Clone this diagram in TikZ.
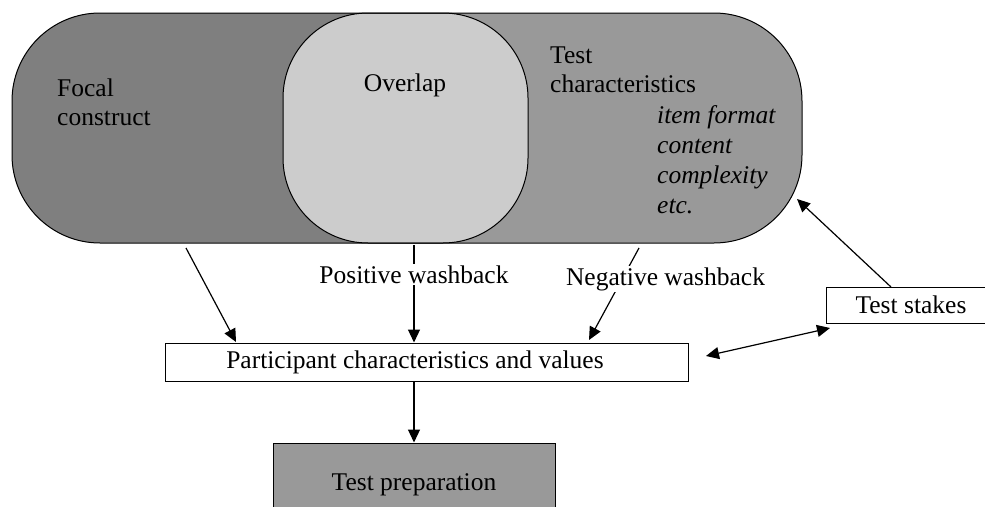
\documentclass[tikz,border=0pt]{standalone}
\usepackage{fontspec}
\setmainfont{Liberation Serif}
\usetikzlibrary{arrows.meta}
\definecolor{darkg}{HTML}{7F7F7F}
\definecolor{midg}{HTML}{999999}
\definecolor{lightg}{HTML}{CCCCCC}
\begin{document}
\begin{tikzpicture}[x=1pt,y=-1pt,
  arr/.style={-{Triangle[length=13pt,width=12pt]}, line width=1.2pt},
  darr/.style={{Triangle[length=13pt,width=12pt]}-{Triangle[length=13pt,width=12pt]}, line width=1.2pt},
  txt/.style={font=\fontsize{25.5}{29}\selectfont, inner sep=0pt},
  itxt/.style={font=\fontsize{25.5}{30}\selectfont\itshape, inner sep=0pt, align=left},
  lbl/.style={txt, fill=white, inner xsep=2pt, inner ysep=1.5pt},
  box/.style={draw, line width=1pt, font=\fontsize{25.5}{29}\selectfont, inner sep=0pt}]
\useasboundingbox (0,0) rectangle (985,506);
\clip (0,0) rectangle (985,506);
% big rounded region
\begin{scope}
  \clip[rounded corners=88pt] (12,13) rectangle (802,243);
  \fill[midg] (12,13) rectangle (802,243);
  \fill[darkg] (12,13) rectangle (405,243);
\end{scope}
\draw[line width=1pt, fill=lightg, rounded corners=85pt] (283,13) rectangle (528,243);
\draw[line width=1pt, rounded corners=88pt] (12,13) rectangle (802,243);
% texts in region (base anchor = baseline of last line)
\node[txt, anchor=base west, align=left] (focal) at (57,125) {Focal\\construct};
\node[txt, anchor=base] (overlap) at (405,91) {Overlap};
\node[txt, anchor=base west, align=left] (testc) at (550,92) {Test\\characteristics};
\node[itxt, anchor=base west] (items) at (657,213) {item format\\content\\complexity\\etc.};
% boxes
\node[box, minimum width=523pt, minimum height=38pt] (part) at (426.5,362) {\hspace*{-23pt}Participant characteristics and values};
\node[box, fill=midg, minimum width=282pt, minimum height=87pt] (prep) at (414,486.5) {\raisebox{9pt}{Test preparation}};
\node[box, minimum width=170pt, minimum height=36pt] (stakes) at (911,305) {Test stakes};
% connector ends
\coordinate (fs) at (186,248);
\coordinate (fe) at (236,342);
\coordinate (ps) at (414,245);
\coordinate (ns) at (639,248);
\coordinate (ne) at (589,340);
\coordinate (sk) at (891,287);
\coordinate (tc) at (797,199);
\coordinate (da1) at (706,356);
\coordinate (da2) at (830,328);
% connectors
\draw[arr] (fs) -- (fe);
\draw[arr] (ps) -- (ps |- part.north);
\draw[arr] (ns) -- (ne);
\draw[arr] (part.south -| prep.north) -- (prep.north);
\draw[arr] (sk) -- (tc);
\draw[darr] (da1) -- (da2);
% labels on connectors
\node[lbl, anchor=base] (pw) at (414,283) {Positive washback};
\node[lbl, anchor=base] (nw) at (665.5,285) {Negative washback};
\end{tikzpicture}
\end{document}
